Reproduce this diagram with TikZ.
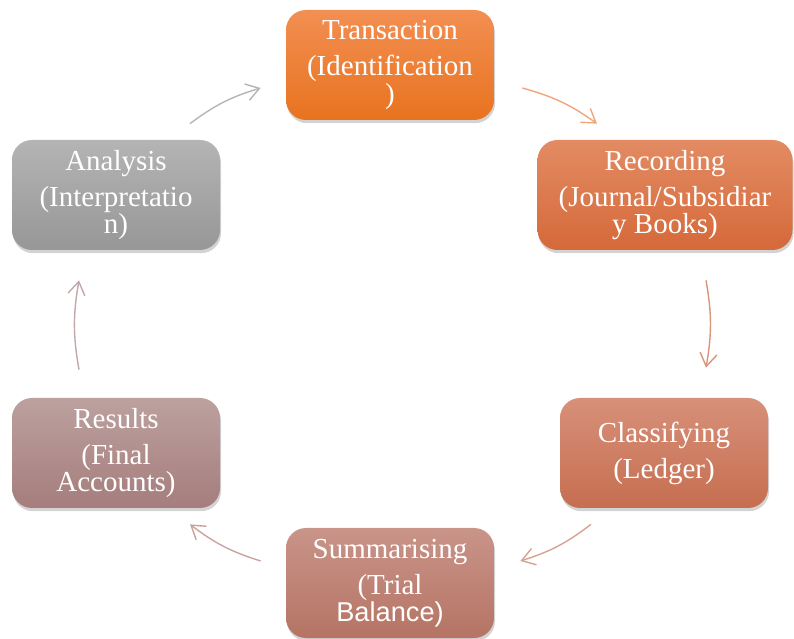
\documentclass[tikz,border=0pt]{standalone}
\usepackage{fontspec}
\setmainfont{Liberation Serif}
\newfontfamily\stagefont{Liberation Serif}
\newfontfamily\balfont{Liberation Sans}
\usetikzlibrary{arrows.meta,shadows}

\definecolor{transT}{HTML}{F28F52}
\definecolor{transB}{HTML}{E8731F}
\definecolor{recT}{HTML}{E38B63}
\definecolor{recB}{HTML}{D5693A}
\definecolor{clsT}{HTML}{D79079}
\definecolor{clsB}{HTML}{C66E50}
\definecolor{sumT}{HTML}{C99489}
\definecolor{sumB}{HTML}{B57464}
\definecolor{resT}{HTML}{BCA19E}
\definecolor{resB}{HTML}{A57D7D}
\definecolor{anaT}{HTML}{B4B4B4}
\definecolor{anaB}{HTML}{979797}

\begin{document}
\begin{tikzpicture}[
    stage/.style={rounded corners=0.4cm, minimum width=4.16cm, minimum height=2.2cm,
      inner sep=0pt, align=center, text=white, font=\stagefont\fontsize{16.5}{15.5}\selectfont,
      drop shadow={opacity=0.35, shadow xshift=0.6pt, shadow yshift=-1.8pt}},
    flow/.style={line width=0.8pt, -{Straight Barb[length=2.6mm, width=3.4mm]}}
  ]

  % Fix the page to the reference size
  \useasboundingbox (0,0) rectangle (15.88,12.76);

  % The six stages of the accounting cycle
  \node[stage, top color=transT, bottom color=transB] (trans) at (7.80,11.46)
    {Transaction\\[5pt](Identification\\)};
  \node[stage, minimum width=5.10cm, top color=recT, bottom color=recB] (rec) at (13.30,8.86)
    {Recording\\[5pt](Journal/Subsidiar\\y Books)};
  \node[stage, top color=clsT, bottom color=clsB] (cls) at (13.28,3.70)
    {Classifying\\[5pt](Ledger)};
  \node[stage, top color=sumT, bottom color=sumB] (summ) at (7.80,1.10)
    {Summarising\\[5pt](Trial\\{\balfont\fontsize{15.5}{15.5}\selectfont Balance)}};
  \node[stage, top color=resT, bottom color=resB] (res) at (2.32,3.70)
    {Results\\[5pt](Final\\Accounts)};
  \node[stage, top color=anaT, bottom color=anaB] (ana) at (2.32,8.86)
    {Analysis\\[5pt](Interpretatio\\n)};

  % Curved arrows going clockwise round the cycle
  \draw[flow, color={rgb,255:red,240;green,165;blue,122}]
    ([shift={(0.56,-0.46)}]trans.east) to[bend left=10] ([shift={(-1.36,0.32)}]rec.north);
  \draw[flow, color={rgb,255:red,217;green,149;blue,122}]
    ([shift={(0.82,-0.60)}]rec.south) to[bend left=10] ([shift={(0.84,0.60)}]cls.north);
  \draw[flow, color={rgb,255:red,214;green,162;blue,148}]
    ([shift={(-1.46,-0.32)}]cls.south) to[bend left=10] ([shift={(0.52,0.44)}]summ.east);
  \draw[flow, color={rgb,255:red,201;green,163;blue,156}]
    ([shift={(-0.50,0.44)}]summ.west) to[bend left=10] ([shift={(1.48,-0.32)}]res.south);
  \draw[flow, color={rgb,255:red,194;green,169;blue,169}]
    ([shift={(-0.74,0.56)}]res.north) to[bend left=10] ([shift={(-0.74,-0.60)}]ana.south);
  \draw[flow, color={rgb,255:red,181;green,181;blue,181}]
    ([shift={(1.48,0.32)}]ana.north) to[bend left=10] ([shift={(-0.50,-0.46)}]trans.west);

\end{tikzpicture}
\end{document}
